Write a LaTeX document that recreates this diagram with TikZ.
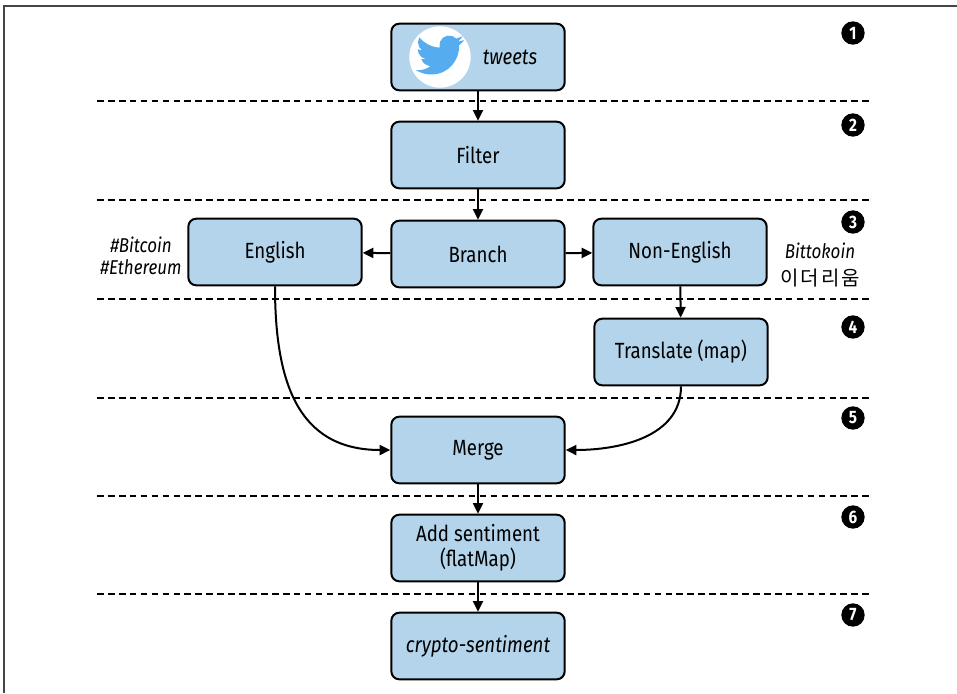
\documentclass[tikz,border=0pt]{standalone}
\usepackage{fontspec}
\setmainfont{Fira Sans}[FakeStretch=0.85]
\newfontfamily\krfont{Noto Sans CJK KR}[LetterSpace=10]
\usetikzlibrary{arrows.meta}
\definecolor{boxblue}{RGB}{179,212,234}
\definecolor{birdblue}{RGB}{85,172,238}
\definecolor{framegray}{RGB}{70,70,70}
\tikzset{
  stage/.style={draw=black, fill=boxblue, line width=1.5pt, rounded corners=6pt, minimum width=130pt, minimum height=50pt, font=\fontsize{16.5}{18.5}\selectfont, align=center},
  flow/.style={-{Triangle[length=8pt,width=7.5pt]}, line width=1.5pt},
  sepline/.style={line width=1.6pt, dash pattern=on 5pt off 3.2pt},
  num/.style={circle, fill=black, inner sep=0pt, minimum size=17.5pt, text=white, font=\bfseries\fontsize{13.5}{13.5}\selectfont},
  side/.style={align=center, font=\itshape\fontsize{15}{16.5}\selectfont},
}
\begin{document}
\begin{tikzpicture}[x=0.75pt, y=-0.75pt]
\useasboundingbox (0,0) rectangle (957,693);
\draw[framegray, line width=1.5pt] (4,693) -- (4,6) -- (957,6);
% stage separators and numbers
\foreach \y in {101,200,299,398,496,594} \draw[sepline] (97,\y) -- (870,\y);
\foreach \n/\y in {1/33,2/125,3/222,4/327,5/418,6/517,7/615} \node[num] (n\n) at (853,\y) {\n};
% processors
\node[stage] (tweets) at (478,57) {};
\fill[white] (440,57) circle[radius=23pt];
\begin{scope}[shift={(416,31)}, scale=2]
\fill[birdblue] (23.95,4.57) -- (21.13,5.35) -- (23.29,2.62) -- (20.16,3.81) -- (18.25,2.55) -- (15.72,2.33) -- (13.41,3.40) -- (11.95,5.49) -- (11.78,8.29) .. controls (7.69,8.10) and (4.07,6.13) .. (1.64,3.16) -- (0.97,5.64) .. controls (0.97,7.35) and (1.84,8.85) .. (3.16,9.73) -- (0.93,9.12) -- (0.93,9.18) .. controls (0.93,11.5) and (2.6,13.5) .. (4.88,14.0) -- (2.67,14.09) .. controls (3.3,16.0) and (5.1,17.4) .. (7.27,17.51) .. controls (5.5,18.9) and (3.4,19.61) .. (1.17,19.61) -- (0,19.54) .. controls (2.2,20.97) and (4.8,21.75) .. (7.56,21.75) .. controls (16.61,21.75) and (21.56,14.26) .. (21.56,7.77) -- (21.54,7.14) .. controls (22.5,6.45) and (23.35,5.6) .. (24,4.59) -- cycle;
\end{scope}
\node[font=\itshape\fontsize{16.5}{18.5}\selectfont] (tweetslbl) at (510,57) {tweets};
\node[stage] (filter) at (478,155) {Filter};
\node[stage] (branch) at (478,254) {Branch};
\node[stage] (english) at (275,252) {English};
\node[stage] (nonenglish) at (680,252) {Non-English};
\node[stage] (translate) at (681,352) {Translate (map)};
\node[stage] (merge) at (478,450) {Merge};
\node[stage] (sentiment) at (478,548) {Add sentiment\\(flatMap)};
\node[stage, font=\itshape\fontsize{16.5}{18.5}\selectfont] (crypto) at (478,646) {crypto-sentiment};
% side notes
\node[side] (hashtags) at (141,256) {\#Bitcoin\\\#Ethereum};
\node[side] (foreign) at (820,265) {Bittokoin\\[4pt]{\upshape\krfont\fontsize{15}{18}\selectfont 이더리움}};
% flow
\draw[flow] (tweets) -- (filter);
\draw[flow] (filter) -- (branch);
\draw[flow] (branch) -- (english);
\draw[flow] (branch) -- (nonenglish);
\draw[flow] (nonenglish) -- (translate);
\draw[flow] (english.south) to[out=-90, in=180, looseness=1.2] (merge.west);
\draw[flow] (translate.south) to[out=-90, in=0] (merge.east);
\draw[flow] (merge) -- (sentiment);
\draw[flow] (sentiment) -- (crypto);
\end{tikzpicture}
\end{document}
